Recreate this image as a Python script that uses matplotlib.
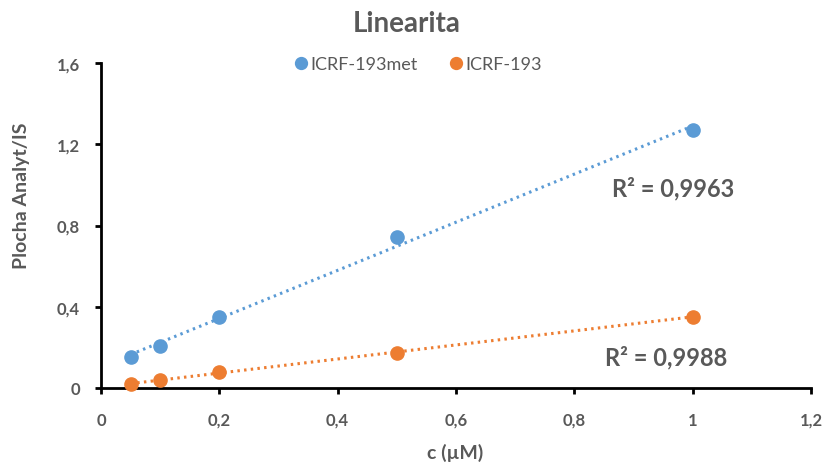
import numpy as np
import matplotlib
matplotlib.use("Agg")
import matplotlib.pyplot as plt
from matplotlib.ticker import FuncFormatter

plt.rcParams['font.family'] = ['Lato', 'DejaVu Sans']

conc = [0.05, 0.1, 0.2, 0.5, 1.0]
met_vals = [0.152, 0.207, 0.348, 0.744, 1.268]
icrf_vals = [0.018, 0.040, 0.080, 0.172, 0.352]
series_names = ["ICRF-193met", "ICRF-193"]
r2_labels = ["R² = 0,9963", "R² = 0,9988"]
xticks = [0, 0.2, 0.4, 0.6, 0.8, 1.0, 1.2]
yticks = [0, 0.4, 0.8, 1.2, 1.6]

BLUE = "#5B9BD5"
ORANGE = "#ED7D31"
GRAY = "#595959"

W, H = 826, 464
fig = plt.figure(figsize=(W / 100, H / 100), dpi=100)
ax = fig.add_axes([101 / W, 1 - 389 / H, 710 / W, 325 / H])

x = np.array(conc)
for vals, color, name in [(met_vals, BLUE, series_names[0]), (icrf_vals, ORANGE, series_names[1])]:
    ax.plot(x, vals, 'o', color=color, markersize=9.5, label=name, zorder=3, clip_on=False)
    p = np.polyfit(x, vals, 1)
    xx = np.array([x.min(), x.max()])
    ax.plot(xx, np.polyval(p, xx), color=color, linewidth=2.2,
            linestyle=(0, (0.8, 1.4)), zorder=2)

ax.set_xlim(0, 1.2)
ax.set_ylim(0, 1.6)
ax.set_xticks(xticks)
ax.set_yticks(yticks)
fmt = FuncFormatter(lambda v, p: ('%g' % round(v, 2)).replace('.', ','))
ax.xaxis.set_major_formatter(fmt)
ax.yaxis.set_major_formatter(fmt)

for s in ['top', 'right']:
    ax.spines[s].set_visible(False)
for s in ['left', 'bottom']:
    ax.spines[s].set_linewidth(2)
    ax.spines[s].set_color('black')
ax.tick_params(axis='both', direction='out', length=4, width=2, color='black',
               labelsize=12, labelcolor=GRAY)
ax.tick_params(axis='y', pad=11)
ax.tick_params(axis='x', pad=13)
for lbl in ax.get_xticklabels() + ax.get_yticklabels():
    lbl.set_fontweight('bold')

fig.text(455 / W, 1 - 453 / H, "c (µM)", ha='center', va='center', fontsize=14,
         fontweight='bold', color=GRAY)
fig.text(22 / W, 1 - 196 / H, "Plocha Analyt/IS", ha='center', va='center', fontsize=14,
         fontweight='bold', color=GRAY, rotation=90)

fig.text(407 / W, 1 - 24 / H, "Linearita", ha='center', va='center', fontsize=20,
         fontweight='bold', color=GRAY)

leg = fig.legend(loc='center', bbox_to_anchor=(417 / W, 1 - 65 / H), ncol=2, frameon=False,
                 fontsize=13, handletextpad=0.05, columnspacing=1.6, markerscale=0.9,
                 handlelength=1.0)
for t in leg.get_texts():
    t.set_color(GRAY)

fig.text(673 / W, 1 - 189 / H, r2_labels[0], fontsize=17, fontweight='bold', color=GRAY,
         ha='center', va='center')
fig.text(666 / W, 1 - 358 / H, r2_labels[1], fontsize=17, fontweight='bold', color=GRAY,
         ha='center', va='center')

fig.savefig("out.png", dpi=100)
